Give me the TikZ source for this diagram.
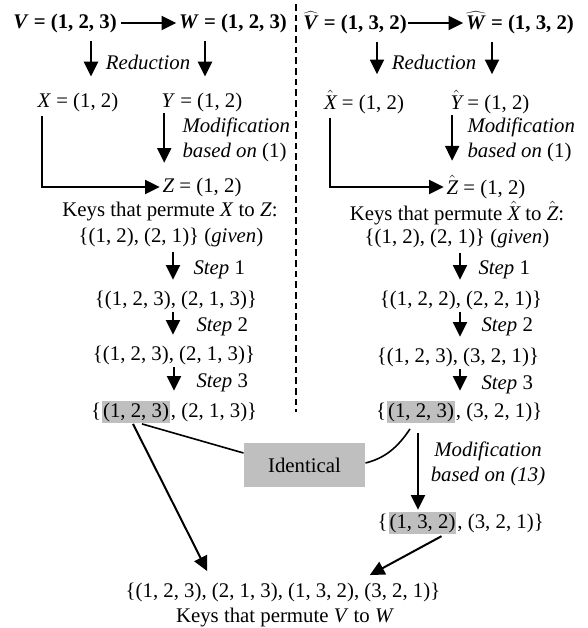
\documentclass[tikz,border=0pt]{standalone}
\usepackage{fontspec}
\setmainfont{Liberation Serif}
\usetikzlibrary{arrows.meta}

\newcommand{\hatX}{$\hat{\textit{X}}$}
\newcommand{\hatY}{$\hat{\textit{Y}}$}
\newcommand{\hatZ}{$\hat{\textit{Z}}$}

\tikzset{every picture/.style={line width=0.75pt}}
\tikzset{
  txt/.style={inner sep=0.75pt, font=\fontsize{15.6}{19}\selectfont},
  lbl/.style={txt, anchor=west, align=left},
  hl/.style={txt, inner xsep=0.8pt, inner ysep=1.5pt, fill={rgb, 255:red, 191; green, 191; blue, 191 }},
  bigarrow/.style={line width=1.5pt, -{Triangle[length=11pt,width=10.5pt]}},
  thinline/.style={line width=1.2pt},
}

\begin{document}
\begin{tikzpicture}[x=0.75pt,y=0.75pt,yscale=-1,xscale=1]
\useasboundingbox (0,0) rectangle (588,628);

% Text Node
\draw (65,23) node (V) [txt] {\textbf{\textit{V} = (1, 2, 3)}};
% Text Node
\draw (233,23) node (W) [txt] {\textbf{\textit{W} = (1, 2, 3)}};
% Text Node
\draw (355,23) node (Vh) [txt] {\textbf{$\widehat{\textbf{\textit{V}}}$ = (1, 3, 2)}};
% Text Node
\draw (520,23) node (Wh) [txt] {\textbf{$\widehat{\textbf{\textit{W}}}$ = (1, 3, 2)}};
% Text Node
\draw (148,62) node (RedL) [txt] {\textit{Reduction}};
% Text Node
\draw (434,62) node (RedR) [txt] {\textit{Reduction}};
% Text Node
\draw (78,102) node (X) [txt] {\textit{X} = (1, 2)};
% Text Node
\draw (202,102) node (Y) [txt] {\textit{Y} = (1, 2)};
% Text Node
\draw (202,187) node (Z) [txt] {\textit{Z} = (1, 2)};
% Text Node
\draw (364,102) node (Xh) [txt] {\hatX{} = (1, 2)};
% Text Node
\draw (490,102) node (Yh) [txt] {\hatY{} = (1, 2)};
% Text Node
\draw (486,187) node (Zh) [txt] {\hatZ{} = (1, 2)};
% Text Node
\draw (181,140) node (ModL) [lbl] {\textit{Modification}\\\textit{based on} (1)};
% Text Node
\draw (466,140) node (ModR) [lbl] {\textit{Modification}\\\textit{based on} (1)};
% Text Node
\draw (170,212) node (KeysL) [txt] {Keys that permute \textit{X} to \textit{Z}:};
% Text Node
\draw (171,237) node (GivL) [txt] {\{(1, 2), (2, 1)\} (\textit{given})};
% Text Node
\draw (457,213) node (KeysR) [txt] {Keys that permute \hatX{} to \hatZ{}:};
% Text Node
\draw (457,238) node (GivR) [txt] {\{(1, 2), (2, 1)\} (\textit{given})};
% Text Node
\draw (176,300) node (S1L) [txt] {\{(1, 2, 3), (2, 1, 3)\}};
% Text Node
\draw (174,355) node (S2L) [txt] {\{(1, 2, 3), (2, 1, 3)\}};
% Text Node
\draw (461,300) node (S1R) [txt] {\{(1, 2, 2), (2, 2, 1)\}};
% Text Node
\draw (458,357) node (S2R) [txt] {\{(1, 2, 3), (3, 2, 1)\}};
% Text Node
\draw (192,270) node (St1L) [lbl] {\textit{Step} 1};
% Text Node
\draw (195,327) node (St2L) [lbl] {\textit{Step} 2};
% Text Node
\draw (195,383) node (St3L) [lbl] {\textit{Step} 3};
% Text Node
\draw (477,270) node (St1R) [lbl] {\textit{Step} 1};
% Text Node
\draw (480,327) node (St2R) [lbl] {\textit{Step} 2};
% Text Node
\draw (480,385) node (St3R) [lbl] {\textit{Step} 3};

% Highlighted sets
\draw (136,412) node (S3Lh) [hl] {(1, 2, 3)};
\draw (S3Lh.base west) node (S3La) [txt, inner sep=0pt, anchor=base east] {\{};
\draw (S3Lh.base east) node (S3Lb) [txt, inner sep=0pt, anchor=base west] {, (2, 1, 3)\}};
\draw (421,412) node (S3Rh) [hl] {(1, 2, 3)};
\draw (S3Rh.base west) node (S3Ra) [txt, inner sep=0pt, anchor=base east] {\{};
\draw (S3Rh.base east) node (S3Rb) [txt, inner sep=0pt, anchor=base west] {, (3, 2, 1)\}};
\draw (422.5,523) node (S4Rh) [hl] {(1, 3, 2)};
\draw (S4Rh.base west) node (S4Ra) [txt, inner sep=0pt, anchor=base east] {\{};
\draw (S4Rh.base east) node (S4Rb) [txt, inner sep=0pt, anchor=base west] {, (3, 2, 1)\}};

% Text Node
\draw (488,464) node (Mod13) [txt, align=center] {\textit{Modification}\\\textit{based on (13)}};
% Text Node
\draw (304.5,465) node (Id) [txt, minimum width=90.75pt, minimum height=33pt, fill={rgb, 255:red, 191; green, 191; blue, 191 }] {Identical};
% Text Node
\draw (283,592) node (B1) [txt] {\{(1, 2, 3), (2, 1, 3), (1, 3, 2), (3, 2, 1)\}};
% Text Node
\draw (285,618) node (B2) [txt] {Keys that permute \textit{V} to \textit{W}};

%Dashed divider
\draw [line width=1pt, dash pattern=on 5pt off 3pt] (296,4) -- (296,412);

%Straight Lines
\draw [bigarrow, shorten <=2pt, shorten >=1pt] (V.east) -- (W.west);
\draw [bigarrow, shorten >=1pt] (Vh.east) -- (Wh.west);
\draw [bigarrow, shorten <=5pt, shorten >=11pt] ([xshift=19.5pt]V.south) -- ([xshift=19.5pt]V.south |- X.north);
\draw [bigarrow, shorten <=5pt, shorten >=11pt] ([xshift=-21pt]W.south) -- ([xshift=-21pt]W.south |- Y.north);
\draw [bigarrow, shorten <=5pt, shorten >=11pt] ([xshift=16.5pt]Vh.south) -- ([xshift=16.5pt]Vh.south |- Xh.north);
\draw [bigarrow, shorten <=5pt, shorten >=11pt] ([xshift=-21pt]Wh.south) -- ([xshift=-21pt]Wh.south |- Yh.north);
\draw [bigarrow, shorten >=10pt] ([xshift=3pt]Y.south west) -- ([xshift=3pt]Y.south west |- Z.north);
\draw [bigarrow, shorten >=10pt] ([xshift=2.25pt]Yh.south west) -- ([xshift=2.25pt]Yh.south west |- Zh.north);
\draw [bigarrow, shorten <=2pt, shorten >=1pt] ([xshift=4.5pt]X.south west) |- (Z.west);
\draw [bigarrow, shorten <=2pt, shorten >=1pt] ([xshift=5.25pt]Xh.south west) |- (Zh.west);
\draw [bigarrow, shorten <=3pt, shorten >=7pt] ([xshift=1.5pt]GivL.south) -- ([xshift=1.5pt]GivL.south |- S1L.north);
\draw [bigarrow, shorten <=1pt, shorten >=7pt] ([xshift=-2.25pt]S1L.south) -- ([xshift=-2.25pt]S1L.south |- S2L.north);
\draw [bigarrow, shorten <=1pt, shorten >=7pt] (S2L.south) -- (S2L.south |- S3Lh.north);
\draw [bigarrow, shorten <=3pt, shorten >=7pt] ([xshift=2.25pt]GivR.south) -- ([xshift=2.25pt]GivR.south |- S1R.north);
\draw [bigarrow, shorten <=1pt, shorten >=7pt] ([xshift=-0.75pt]S1R.south) -- ([xshift=-0.75pt]S1R.south |- S2R.north);
\draw [bigarrow, shorten <=1pt, shorten >=7pt] ([xshift=1.5pt]S2R.south) -- ([xshift=1.5pt]S2R.south |- S3Rh.north);
\draw [bigarrow, shorten <=7pt, shorten >=1pt] ([xshift=-2.25pt]S3Rh.south) -- ([xshift=-2.25pt]S3Rh.south |- S4Rh.north);
\draw [bigarrow] ([xshift=-2.25pt]S3Lh.south) -- ([xshift=62.25pt,yshift=-7.5pt]B1.north west);
\draw [bigarrow, shorten <=2pt] ([xshift=16pt]S4Rh.south) -- ([xshift=-54pt,yshift=-4.5pt]B1.north east);
\draw [thinline] ([xshift=4.5pt]S3Lh.south) -- ([yshift=-9pt]Id.west);
\draw [thinline] ([yshift=-1.5pt]Id.east) .. controls +(20,-5) and +(-12,18) .. ([xshift=-8.25pt,yshift=3.75pt]S3Rh.south);

\end{tikzpicture}
\end{document}
